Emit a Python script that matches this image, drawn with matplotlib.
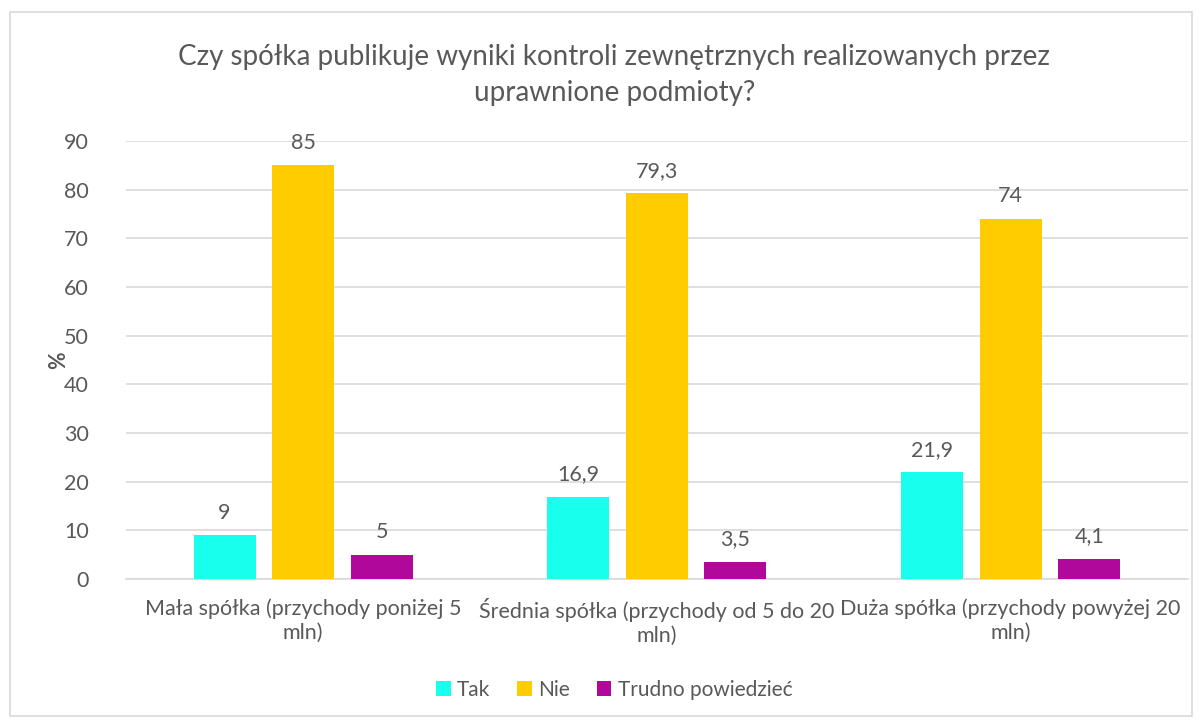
import numpy as np
import matplotlib.pyplot as plt
from matplotlib.patches import Rectangle

plt.rcParams['font.family'] = ['Lato', 'DejaVu Sans']

categories = ['Mała spółka (przychody poniżej 5\nmln)',
              'Średnia spółka (przychody od 5 do 20\nmln)',
              'Duża spółka (przychody powyżej 20\nmln)']
series_names = ['Tak', 'Nie', 'Trudno powiedzieć']
tak = [9, 16.9, 21.9]
nie = [85, 79.3, 74]
trudno = [5, 3.5, 4.1]
colors = ['#19FFEE', '#FFCC00', '#B0089A']

txt = '#595959'
fig = plt.figure(figsize=(12.02, 7.2), dpi=100)
fig.patches.append(Rectangle((0.008, 0.005), 0.984, 0.978, transform=fig.transFigure,
                             fill=False, edgecolor='#D9D9D9', linewidth=1.2))
ax = fig.add_axes([0.105, 0.196, 0.883, 0.608])

x = np.arange(len(categories))
w = 0.175
off = 0.222
for i, (vals, name) in enumerate(zip([tak, nie, trudno], series_names)):
    bars = ax.bar(x + (i - 1) * off, vals, w, color=colors[i], label=name, zorder=3)
    labels = [('%g' % v).replace('.', ',') for v in vals]
    ax.bar_label(bars, labels=labels, padding=9, fontsize=15.5, color=txt)

ax.set_xlim(-0.5, 2.5)
ax.set_ylim(0, 90)
ax.set_yticks(range(0, 91, 10))
ax.yaxis.grid(True, color='#D9D9D9', linewidth=1.2, zorder=0)
ax.tick_params(axis='both', length=0, labelsize=15.5, labelcolor=txt)
ax.tick_params(axis='y', pad=27)
ax.tick_params(axis='x', pad=14)
ax.set_xticks(x)
ax.set_xticklabels(categories, linespacing=1.25)
for s in ['top', 'right', 'left']:
    ax.spines[s].set_visible(False)
ax.spines['bottom'].set_color('#D9D9D9')
ax.spines['bottom'].set_linewidth(1.2)

ax.set_ylabel('%', fontsize=15.5, fontweight='bold', color=txt, labelpad=-4)
fig.text(0.511, 0.896, 'Czy spółka publikuje wyniki kontroli zewnętrznych realizowanych przez\nuprawnione podmioty?',
         ha='center', va='center', fontsize=20, color=txt, linespacing=1.45)

fig.legend(loc='center', bbox_to_anchor=(0.511, 0.042), ncol=3, frameon=False,
           fontsize=15, labelcolor=txt, handlelength=0.7, handleheight=0.7,
           handletextpad=0.3, columnspacing=1.3)

fig.savefig('out.png', dpi=100)
